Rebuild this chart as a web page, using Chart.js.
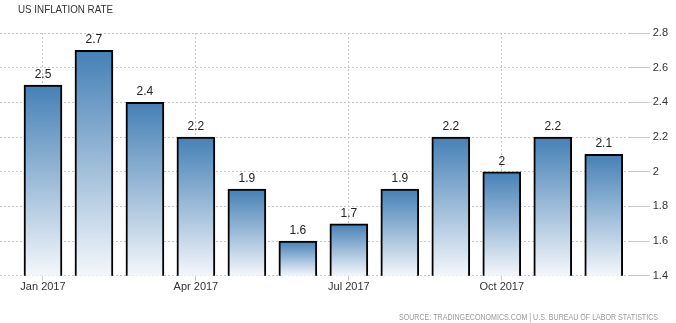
<!DOCTYPE html>
<html><head><meta charset="utf-8">
<script src="https://cdn.jsdelivr.net/npm/chart.js@4"></script>
<style>html,body{margin:0;padding:0;background:#fff}#wrap{width:676px;height:323px;position:relative}</style>
</head><body><div id="wrap"><canvas id="c" width="676" height="323"></canvas></div>
<script>
const titleText = 'US INFLATION RATE';
const sourceText = 'SOURCE: TRADINGECONOMICS.COM | U.S. BUREAU OF LABOR STATISTICS';
const categories = ['Jan','Feb','Mar','Apr','May','Jun','Jul','Aug','Sep','Oct','Nov','Dec'];
const values = [2.5, 2.7, 2.4, 2.2, 1.9, 1.6, 1.7, 1.9, 2.2, 2.0, 2.2, 2.1];
const xTickLabels = ['Jan 2017','Apr 2017','Jul 2017','Oct 2017'];
const yTicks = [1.4, 1.6, 1.8, 2.0, 2.2, 2.4, 2.6, 2.8];

const xTickIdx = xTickLabels.map(l => categories.indexOf(l.split(' ')[0]));

function barFill(ctx){
  const chart = ctx.chart;
  const area = chart.chartArea;
  if (!area || ctx.type !== 'data') return '#4a80b5';
  const y = chart.scales.y;
  const top = y.getPixelForValue(ctx.raw.y);
  const bot = y.getPixelForValue(yTicks[0]);
  const g = chart.ctx.createLinearGradient(0, top, 0, bot);
  g.addColorStop(0, '#4580b6');
  g.addColorStop(1, '#f4f7fb');
  return g;
}

function narrowText(c, text, x, y, targetW, align){
  const w = c.measureText(text).width;
  const s = Math.min(1, targetW / w);
  c.save();
  c.translate(x, y);
  c.scale(s, 1);
  c.textAlign = align;
  c.fillText(text, 0, 0);
  c.restore();
}

const extras = {
  id: 'extras',
  afterDatasetsDraw(chart){
    const c = chart.ctx;
    c.save();
    c.fillStyle = '#222';
    c.font = '12px Arial, "Liberation Sans", sans-serif';
    c.textAlign = 'center';
    c.textBaseline = 'alphabetic';
    chart.getDatasetMeta(0).data.forEach((el, i) => {
      c.fillText(String(values[i]), el.x, el.y - 7);
    });
    c.restore();
  },
  afterDraw(chart){
    const c = chart.ctx;
    c.save();
    c.textBaseline = 'middle';
    c.fillStyle = '#333';
    c.font = '11px Arial, "Liberation Sans", sans-serif';
    narrowText(c, titleText, 18, 10, 95, 'left');
    c.fillStyle = '#999';
    c.font = '9px Arial, "Liberation Sans", sans-serif';
    narrowText(c, sourceText, 658, 318, 259, 'right');
    c.restore();
  }
};

new Chart(document.getElementById('c'), {
  type: 'bar',
  data: {
    datasets: [{
      data: values.map((v, i) => ({x: i, y: v})),
      backgroundColor: barFill,
      borderColor: '#000',
      borderWidth: 2,
      borderSkipped: false,
      barThickness: 38
    }]
  },
  options: {
    responsive: false,
    animation: false,
    events: [],
    layout: {padding: {left: 0, right: 5, top: 33, bottom: 29}},
    plugins: {legend: {display: false}, tooltip: {enabled: false}},
    scales: {
      x: {
        type: 'linear',
        offset: false,
        min: -0.843,
        max: 11.47,
        afterBuildTicks(scale){ scale.ticks = xTickIdx.map(v => ({value: v})); },
        ticks: {
          autoSkip: false,
          maxRotation: 0,
          padding: 0,
          color: '#333',
          font: {family: 'Arial, "Liberation Sans", sans-serif', size: 11},
          callback: (v) => xTickLabels[xTickIdx.indexOf(v)]
        },
        grid: {offset: false, color: '#c8c8c8', lineWidth: 1, tickLength: 5, tickColor: '#c8c8c8', tickBorderDash: [], drawOnChartArea: true},
        border: {display: false, dash: [2, 2]}
      },
      y: {
        position: 'right',
        min: 1.4,
        max: 2.8,
        afterBuildTicks(scale){ scale.ticks = yTicks.map(v => ({value: v})); },
        ticks: {
          padding: 3,
          color: '#333',
          font: {family: 'Arial, "Liberation Sans", sans-serif', size: 11},
          callback: (v) => String(Number(v.toFixed(1)))
        },
        grid: {color: '#c8c8c8', lineWidth: 1, tickLength: 22},
        border: {display: false, dash: [2, 2]}
      }
    }
  },
  plugins: [extras]
});
</script></body></html>
